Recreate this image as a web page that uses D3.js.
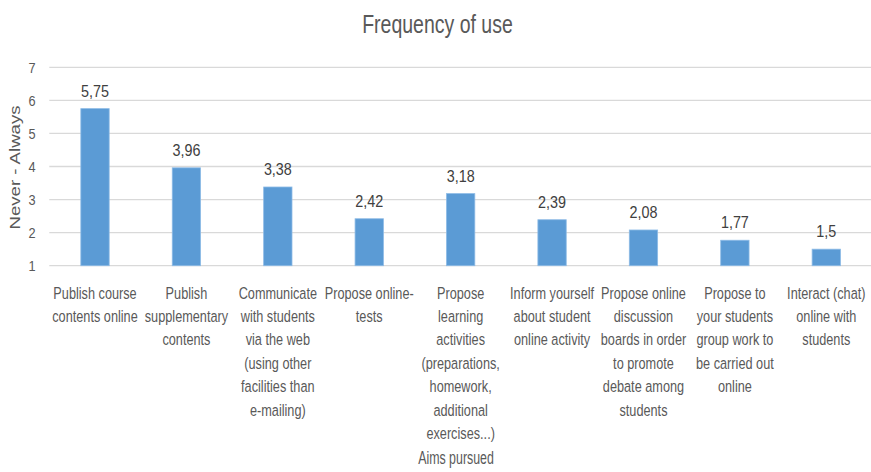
<!DOCTYPE html>
<html>
<head>
<meta charset="utf-8">
<script src="https://cdn.jsdelivr.net/npm/d3@7"></script>
<style>
  html, body { margin: 0; padding: 0; background: #fff; }
  svg { display: block; }
</style>
</head>
<body>
<svg id="chart" width="871" height="472"></svg>
<script>
const categoryLines = [
  ["Publish course", "contents online"],
  ["Publish", "supplementary", "contents"],
  ["Communicate", "with students", "via the web", "(using other", "facilities than", "e-mailing)"],
  ["Propose online-", "tests"],
  ["Propose", "learning", "activities", "(preparations,", "homework,", "additional", "exercises...)"],
  ["Inform yourself", "about student", "online activity"],
  ["Propose online", "discussion", "boards in order", "to promote", "debate among", "students"],
  ["Propose to", "your students", "group work to", "be carried out", "online"],
  ["Interact (chat)", "online with", "students"]
];
const categories = categoryLines.map(l => l.join(" "));
const values = [5.75, 3.96, 3.38, 2.42, 3.18, 2.39, 2.08, 1.77, 1.5];
const yTicks = [1, 2, 3, 4, 5, 6, 7];
const title = "Frequency of use";
const xTitle = "Aims pursued";
const yTitle = "Never - Always";

const svg = d3.select("#chart");
const W = 871, H = 472;
const margin = { left: 49.3, right: -1, top: 67.3, bottom: H - 265.7 };

const FONT = "'Liberation Sans', Arial, sans-serif";
const textColor = "#595959";

// text with horizontal condensing (reference uses a narrow face)
function addText(g, x, y, str, size, sx, anchor, fill) {
  return g.append("text")
    .attr("transform", `translate(${x},${y}) scale(${sx},1)`)
    .attr("text-anchor", anchor)
    .attr("font-family", FONT)
    .attr("font-size", size)
    .attr("fill", fill)
    .text(str);
}

const x = d3.scaleBand()
  .domain(categories)
  .range([margin.left, W - margin.right])
  .paddingInner(0.69)
  .paddingOuter(0.345);

const y = d3.scaleLinear()
  .domain([1, 7])
  .range([H - margin.bottom, margin.top]);

// gridlines
svg.append("g")
  .selectAll("line")
  .data(yTicks)
  .join("line")
  .attr("x1", margin.left)
  .attr("x2", W)
  .attr("y1", d => y(d))
  .attr("y2", d => y(d))
  .attr("stroke", "#d9d9d9")
  .attr("stroke-width", 1.3);

// y axis labels
const yAxis = d3.axisLeft(y).tickValues(yTicks).tickSize(0).tickPadding(0).tickFormat(d3.format("d"));
const yg = svg.append("g").attr("transform", `translate(35.5,0)`).call(yAxis);
yg.select(".domain").remove();
yg.selectAll(".tick text")
  .attr("font-family", FONT)
  .attr("font-size", 15)
  .attr("fill", textColor)
  .attr("transform", "scale(0.85,1)");

// bars
svg.append("g")
  .selectAll("rect")
  .data(values)
  .join("rect")
  .attr("x", (d, i) => x(categories[i]))
  .attr("width", x.bandwidth())
  .attr("y", d => y(d))
  .attr("height", d => y(1) - y(d))
  .attr("fill", "#5b9bd5")
  .attr("stroke", "#8dbbe6")
  .attr("stroke-width", 0.8);

// value labels
const valG = svg.append("g");
values.forEach((v, i) => {
  addText(valG, x(categories[i]) + x.bandwidth() / 2, y(v) - 12,
    String(v).replace(".", ","), 16.5, 0.87, "middle", "#404040");
});

// category labels
const catG = svg.append("g");
categoryLines.forEach((lines, i) => {
  const cx = x(categories[i]) + x.bandwidth() / 2;
  lines.forEach((ln, j) => {
    addText(catG, cx, 298.5 + j * 23.4, ln, 16.3, 0.78, "middle", textColor);
  });
});

// chart title
addText(svg, 437.5, 33, title, 25, 0.78, "middle", textColor);

// x axis title
addText(svg, 456, 463.5, xTitle, 18.5, 0.67, "middle", textColor);

// y axis title
svg.append("text")
  .attr("transform", "translate(20,167.5) rotate(-90) scale(1.33,1)")
  .attr("text-anchor", "middle")
  .attr("font-family", FONT)
  .attr("font-size", 14)
  .attr("fill", textColor)
  .text(yTitle);
</script>
</body>
</html>
